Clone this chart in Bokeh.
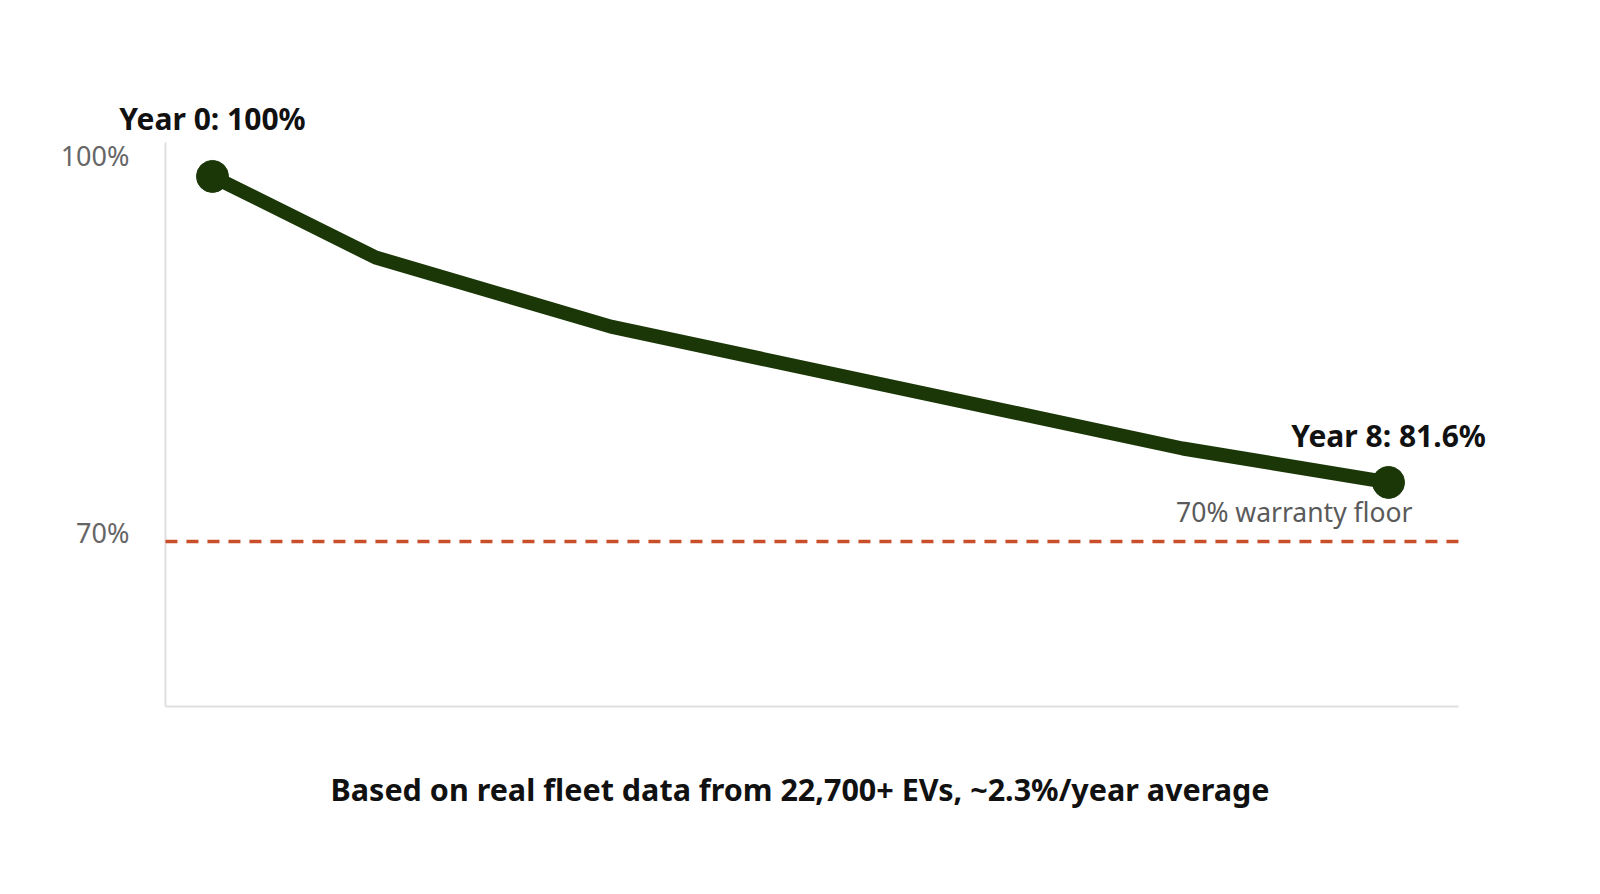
from bokeh.plotting import figure
from bokeh.models import Label
from bokeh.core.properties import value
from bokeh.embed import file_html
from bokeh.resources import INLINE

# Данные графика
years = [0, 1.11, 2.71, 6.6, 8]
capacity = [99.05, 92.6, 87.1, 77.4, 74.7]
y_ticks = [70, 100]
y_tick_labels = ["70%", "100%"]
warranty_floor = 70
first_label = "Year 0: 100%"
last_label = "Year 8: 81.6%"
floor_label = "70% warranty floor"
caption = "Based on real fleet data from 22,700+ EVs, ~2.3%/year average"

font = "Noto Sans"
line_color = "#1b3708"
floor_color = "#c94f2a"
axis_color = "#e0e0e0"

# Границы осей (рисуем вручную, чтобы подписи не обрезались рамкой)
x_axis = (-0.32, 8.476)
y_axis = (56.87, 101.75)

# Создание графика: рамка на весь холст
p = figure(width=1584, height=878, x_range=(-1.442, 9.333), y_range=(43.18, 113.05),
           min_border=0, x_axis_location=None, y_axis_location=None,
           output_backend="svg", toolbar_location=None, tools="")
p.background_fill_color = "white"
p.border_fill_color = "white"
p.outline_line_color = None
p.grid.grid_line_color = None

# Оси
p.segment(x0=[x_axis[0], x_axis[0]], y0=[y_axis[0], y_axis[0]],
          x1=[x_axis[0], x_axis[1]], y1=[y_axis[1], y_axis[0]],
          line_color=axis_color, line_width=2)

# Подписи оси y
p.text(x=[x_axis[0]] * len(y_ticks), y=y_ticks, text=y_tick_labels, x_offset=-36, y_offset=-9,
       text_align="right", text_baseline="alphabetic", text_font=value(font),
       text_font_size="27px", text_color="#666666")

# Гарантийный порог
p.segment(x0=[x_axis[0]], y0=[warranty_floor], x1=[x_axis[1]], y1=[warranty_floor],
          line_color=floor_color, line_width=3.5, line_dash="12 9")

# Линия и крайние точки
p.line(years, capacity, line_width=14, line_color=line_color, line_join="round", line_cap="round")
p.scatter([years[0], years[-1]], [capacity[0], capacity[-1]], size=32,
          fill_color=line_color, line_color=line_color)

# Подписи
p.add_layout(Label(x=years[0], y=capacity[0], text=first_label, y_offset=58,
                   text_align="center", text_baseline="alphabetic",
                   text_font=font, text_font_size="30px", text_font_style="bold",
                   text_color="#111111"))
p.add_layout(Label(x=years[-1], y=capacity[-1], text=last_label, y_offset=47,
                   text_align="center", text_baseline="alphabetic",
                   text_font=font, text_font_size="30px", text_font_style="bold",
                   text_color="#111111"))
p.add_layout(Label(x=years[-1], y=warranty_floor, text=floor_label, x_offset=24, y_offset=29,
                   text_align="right", text_baseline="alphabetic",
                   text_font=font, text_font_size="26.5px", text_color="#5a5a5a"))

# Подпись снизу
p.add_layout(Label(x=(x_axis[0] + x_axis[1]) / 2, y=y_axis[0], text=caption, y_offset=-83,
                   x_offset=-12, text_align="center", text_baseline="alphabetic",
                   text_font=font, text_font_size="30.5px", text_font_style="bold",
                   text_color="#111111"))

open("out.html", "w").write(file_html(p, INLINE))
